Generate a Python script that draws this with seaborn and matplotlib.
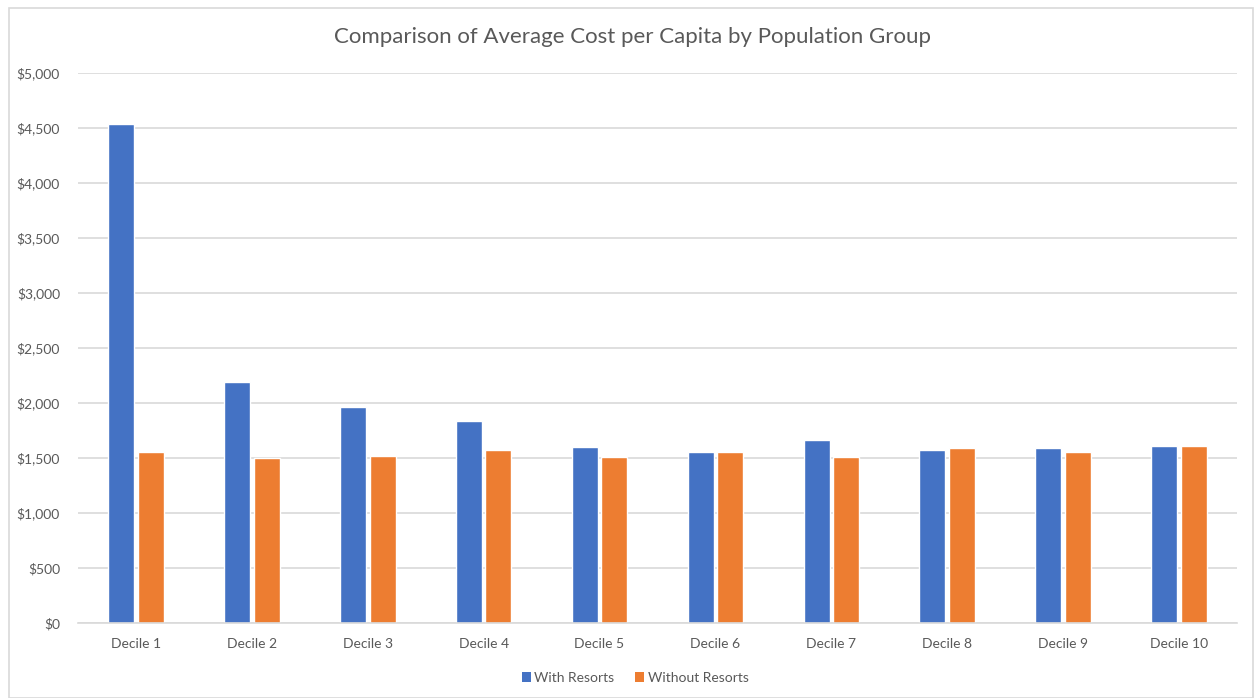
import matplotlib
matplotlib.use("Agg")
import matplotlib.pyplot as plt
from matplotlib.patches import Rectangle, Patch
from matplotlib.ticker import FuncFormatter
import seaborn as sns
import pandas as pd

deciles = [f"Decile {i}" for i in range(1, 11)]
with_resorts = [4534, 2191, 1961, 1833, 1597, 1558, 1661, 1576, 1591, 1609]
without_resorts = [1552, 1497, 1518, 1576, 1512, 1552, 1512, 1591, 1552, 1609]
series_names = ["With Resorts", "Without Resorts"]
colors = ["#4472C4", "#ED7D31"]

df = pd.DataFrame({
    "Decile": deciles * 2,
    "Cost": with_resorts + without_resorts,
    "Series": [series_names[0]] * 10 + [series_names[1]] * 10,
})

sns.set_theme(style="white")
plt.rcParams["font.family"] = ["Lato", "DejaVu Sans"]
text_color = "#595959"

W, H = 1255, 698
fig = plt.figure(figsize=(W / 100, H / 100), dpi=100)
ax = fig.add_axes([78 / W, 1 - 623 / H, (1237 - 78) / W, (623 - 73) / H])

sns.barplot(data=df, x="Decile", y="Cost", hue="Series", palette=colors,
            width=0.51, gap=0.12, saturation=1, ax=ax, legend=False,
            errorbar=None)

ax.set_ylim(0, 5000)
ax.set_xlim(-0.5, 9.5)
ax.set_yticks(range(0, 5001, 500))
ax.yaxis.set_major_formatter(FuncFormatter(lambda v, p: f"${v:,.0f}"))
ax.grid(axis="y", color="#D9D9D9", linewidth=1.2)
ax.set_axisbelow(True)
for s in ["top", "right", "left"]:
    ax.spines[s].set_visible(False)
ax.spines["bottom"].set_color("#D9D9D9")
ax.spines["bottom"].set_linewidth(1.2)
ax.set_xlabel("")
ax.set_ylabel("")
ax.tick_params(axis="both", length=0, labelsize=10, labelcolor=text_color)
ax.tick_params(axis="y", pad=13)
ax.tick_params(axis="x", pad=11)

fig.text(632 / W, 1 - 37 / H, "Comparison of Average Cost per Capita by Population Group",
         ha="center", va="center", fontsize=16, color=text_color)

handles = [Patch(facecolor=c, edgecolor="none") for c in colors]
fig.legend(handles, series_names, loc="center", bbox_to_anchor=(635 / W, 1 - 678 / H),
           ncol=2, frameon=False, fontsize=10, labelcolor=text_color,
           handlelength=0.65, handleheight=0.65, handletextpad=0.25, columnspacing=1.5)

fig.patches.append(Rectangle((9 / W, 0), (1253 - 9) / W, 1 - 8 / H,
                             transform=fig.transFigure, fill=False,
                             edgecolor="#D9D9D9", linewidth=1.2))

fig.savefig("out.png", dpi=100, facecolor="white")
